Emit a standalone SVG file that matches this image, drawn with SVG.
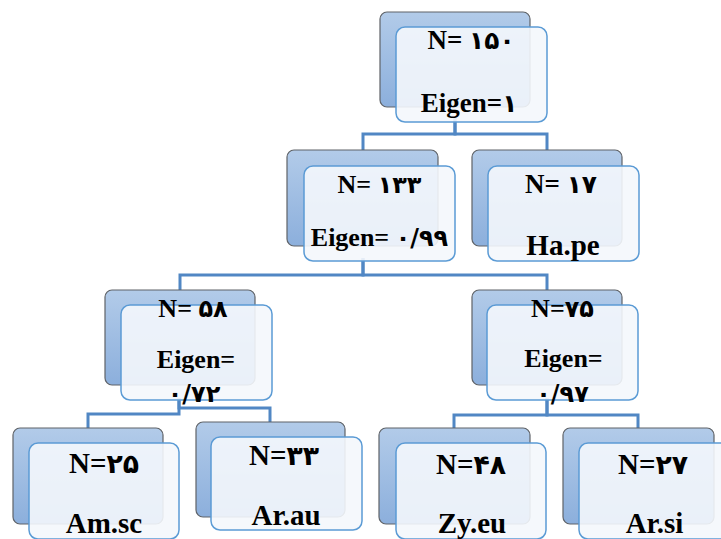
<svg xmlns="http://www.w3.org/2000/svg" width="721" height="539" viewBox="0 0 721 539">
<defs>
<linearGradient id="bg" x1="0" y1="0" x2="0" y2="1">
<stop offset="0" stop-color="#b2cbe9"/>
<stop offset="1" stop-color="#8cafdc"/>
</linearGradient>
<style>
.back{fill:url(#bg);stroke:#5f6368;stroke-width:1.2}
.front{fill:#f4f7fc;fill-opacity:0.9;stroke:#5b9bd5;stroke-width:1.5}
.conn{fill:none;stroke:#5187c4;stroke-width:3}
.t{font-family:'Liberation Serif','Times New Roman',serif;font-weight:700;fill:#000;text-anchor:middle}
.d{font-family:'DejaVu Sans',sans-serif;font-weight:700;font-size:0.92em}
.s26{font-size:26px}
.s27{font-size:27px}
.s28{font-size:29px}
</style>
</defs>
<rect width="721" height="539" fill="#fff"/>
<g id="connectors">
<path class="conn" d="M455 118V134H363V150"/>
<path class="conn" d="M455 118V134H547V150"/>
<path class="conn" d="M363 258V275H180V290"/>
<path class="conn" d="M363 258V275H547V290"/>
<path class="conn" d="M179 398V414H88V428"/>
<path class="conn" d="M179 398V408H270V422"/>
<path class="conn" d="M547 398V415H454V428"/>
<path class="conn" d="M547 398V415H638V428"/>
</g>
<g id="n1">
<rect class="back" x="380" y="12" width="150" height="95" rx="7"/>
<rect class="front" x="396" y="27" width="151" height="95" rx="9"/>
<text class="t s27" x="471" y="49">N= <tspan class="d">۱۵۰</tspan></text>
<text class="t s27" x="469" y="112">Eigen=<tspan class="d">۱</tspan></text>
</g>
<g id="n2">
<rect class="back" x="287" y="150" width="151" height="96" rx="7"/>
<rect class="front" x="304" y="166" width="151" height="95" rx="9"/>
<text class="t s26" x="379.5" y="193">N= <tspan class="d">۱۳۳</tspan></text>
<text class="t s26" x="379.5" y="246">Eigen= <tspan class="d">۰/۹۹</tspan></text>
</g>
<g id="n3">
<rect class="back" x="472" y="150" width="150" height="96" rx="7"/>
<rect class="front" x="488" y="166" width="151" height="95" rx="9"/>
<text class="t s27" x="561" y="193">N= <tspan class="d">۱۷</tspan></text>
<text class="t s28" x="563" y="255">Ha.pe</text>
</g>
<g id="n4">
<rect class="back" x="105" y="290" width="150" height="95" rx="7"/>
<rect class="front" x="121" y="305" width="151" height="95" rx="9"/>
<text class="t s26" x="193" y="317">N= <tspan class="d">۵۸</tspan></text>
<text class="t s26" x="196" y="368">Eigen=</text>
<text class="t s26" x="194" y="402"><tspan class="d">۰/۷۲</tspan></text>
</g>
<g id="n5">
<rect class="back" x="472" y="290" width="150" height="95" rx="7"/>
<rect class="front" x="487" y="305" width="151" height="95" rx="9"/>
<text class="t s26" x="562.5" y="317">N=<tspan class="d">۷۵</tspan></text>
<text class="t s26" x="563.5" y="367">Eigen=</text>
<text class="t s26" x="562.5" y="402"><tspan class="d">۰/۹۷</tspan></text>
</g>
<g id="n6">
<rect class="back" x="13" y="428" width="150" height="96" rx="7"/>
<rect class="front" x="29" y="443" width="150" height="96" rx="9"/>
<text class="t s28" x="104" y="473">N=<tspan class="d">۲۵</tspan></text>
<text class="t s28" x="104" y="533">Am.sc</text>
</g>
<g id="n7">
<rect class="back" x="196" y="422" width="149" height="95" rx="7"/>
<rect class="front" x="211" y="437" width="151" height="93" rx="9"/>
<text class="t s28" x="284" y="465">N=<tspan class="d">۳۳</tspan></text>
<text class="t s28" x="286" y="525">Ar.au</text>
</g>
<g id="n8">
<rect class="back" x="379" y="428" width="151" height="96" rx="7"/>
<rect class="front" x="396" y="443" width="150" height="96" rx="9"/>
<text class="t s28" x="471" y="474">N=<tspan class="d">۴۸</tspan></text>
<text class="t s28" x="472" y="533">Zy.eu</text>
</g>
<g id="n9">
<rect class="back" x="563" y="428" width="151" height="96" rx="7"/>
<rect class="front" x="579" y="443" width="151" height="96" rx="9"/>
<text class="t s28" x="653" y="474">N=<tspan class="d">۲۷</tspan></text>
<text class="t s28" x="654.5" y="533">Ar.si</text>
</g>
</svg>
